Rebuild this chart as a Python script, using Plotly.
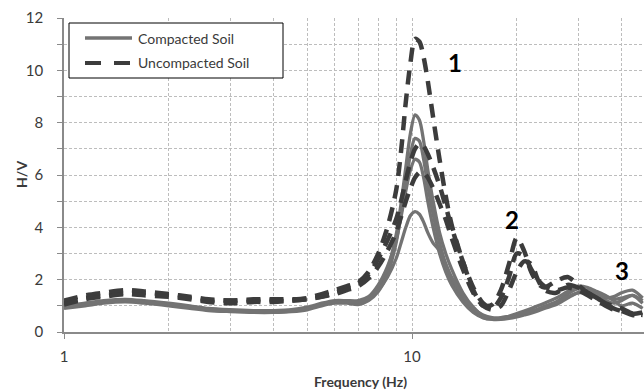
import math
import plotly.graph_objects as go

# ---------------- data ----------------
freq = [1, 1.15, 1.3, 1.5, 1.7, 2, 2.3, 2.6, 3, 3.5, 4, 4.5, 5, 5.5, 6, 6.5, 7, 7.5, 8, 8.5,
        9, 9.3, 9.6, 9.9, 10.2, 10.5, 10.8, 11.1, 11.5, 12, 12.5, 13, 14, 15, 16, 17, 18, 19, 20, 21,
        22, 23, 24, 26, 28, 30, 32, 34, 36, 38, 40, 43, 46]

compacted_1 = [0.95, 1.05, 1.15, 1.2, 1.15, 1.05, 0.95, 0.88, 0.82, 0.8,
               0.78, 0.8, 0.9, 1.05, 1.15, 1.15, 1.15, 1.3, 1.7, 2.4,
               3.7, 4.9, 6.3, 7.6, 8.3, 8.1, 7.3, 6.2, 5.0, 3.8,
               3.0, 2.4, 1.5, 0.95, 0.62, 0.52, 0.5, 0.55, 0.62, 0.7,
               0.78, 0.85, 0.95, 1.15, 1.45, 1.65, 1.55, 1.4, 1.3, 1.35,
               1.5, 1.6, 1.3]
compacted_2 = [0.9, 1.0, 1.1, 1.15, 1.1, 1.0, 0.9, 0.82, 0.78, 0.75,
               0.75, 0.78, 0.85, 1.0, 1.1, 1.1, 1.05, 1.2, 1.55, 2.2,
               3.4, 4.5, 5.7, 6.8, 7.4, 7.3, 6.6, 5.6, 4.5, 3.4,
               2.6, 2.0, 1.25, 0.8, 0.55, 0.48, 0.48, 0.52, 0.58, 0.65,
               0.72, 0.8, 0.9, 1.05, 1.3, 1.5, 1.45, 1.3, 1.2, 1.1,
               1.2, 1.4, 1.2]
compacted_3 = [1.0, 1.1, 1.2, 1.25, 1.2, 1.1, 1.0, 0.9, 0.85, 0.82,
               0.82, 0.85, 0.95, 1.1, 1.2, 1.2, 1.2, 1.35, 1.8, 2.5,
               3.5, 4.4, 5.4, 6.2, 6.6, 6.5, 5.9, 5.0, 4.0, 3.0,
               2.3, 1.8, 1.15, 0.75, 0.55, 0.5, 0.52, 0.6, 0.7, 0.8,
               0.9, 1.0, 1.1, 1.3, 1.55, 1.75, 1.7, 1.55, 1.4, 1.2,
               1.0, 1.1, 0.9]
compacted_4 = [0.95, 1.05, 1.15, 1.2, 1.15, 1.05, 0.95, 0.85, 0.8, 0.78,
               0.78, 0.8, 0.88, 1.05, 1.15, 1.15, 1.15, 1.25, 1.6, 2.1,
               2.8, 3.4, 4.0, 4.45, 4.6, 4.5, 4.2, 3.8, 3.4, 3.1,
               2.6, 2.1, 1.4, 0.9, 0.65, 0.55, 0.55, 0.6, 0.65, 0.72,
               0.8, 0.88, 0.98, 1.15, 1.35, 1.5, 1.6, 1.5, 1.35, 1.25,
               1.3, 1.4, 1.1]

uncompacted_1 = [1.1, 1.3, 1.4, 1.5, 1.5, 1.4, 1.3, 1.2, 1.2, 1.25,
                 1.25, 1.25, 1.3, 1.45, 1.6, 1.75, 1.9, 2.3, 3.0, 4.0,
                 5.4, 6.9, 8.8, 10.3, 11.2, 11.1, 10.5, 9.6, 8.2, 6.6,
                 5.2, 4.1, 2.7, 1.6, 1.0, 1.05, 1.6, 2.6, 3.6, 3.1,
                 2.3, 1.85, 1.7, 1.95, 2.1, 1.8, 1.5, 1.3, 1.1, 1.0,
                 0.9, 0.7, 0.65]
uncompacted_2 = [1.2, 1.4, 1.5, 1.6, 1.55, 1.45, 1.35, 1.25, 1.2, 1.2,
                 1.2, 1.2, 1.25, 1.35, 1.5, 1.65, 1.85, 2.2, 2.8, 3.5,
                 4.3, 5.0, 5.8, 6.5, 7.0, 7.2, 7.1, 6.8, 6.3, 5.6,
                 4.8, 4.0, 2.7, 1.7, 1.1, 0.9, 1.3, 2.1, 3.0, 2.9,
                 2.4, 2.0, 1.75, 1.6, 1.7, 1.6, 1.4, 1.2, 1.0, 0.85,
                 0.8, 0.65, 0.6]
uncompacted_3 = [1.05, 1.25, 1.35, 1.45, 1.4, 1.35, 1.25, 1.15, 1.1, 1.15,
                 1.15, 1.2, 1.25, 1.35, 1.45, 1.6, 1.75, 2.05, 2.5, 3.1,
                 3.8, 4.4, 5.0, 5.5, 5.9, 6.1, 6.1, 5.9, 5.5, 4.9,
                 4.3, 3.6, 2.4, 1.5, 1.0, 0.85, 1.0, 1.6, 2.3, 2.7,
                 2.6, 2.0, 1.6, 1.5, 1.8, 1.7, 1.5, 1.3, 1.1, 0.9,
                 0.8, 0.7, 0.75]

compacted = [compacted_1, compacted_2, compacted_3, compacted_4]
uncompacted = [uncompacted_1, uncompacted_2, uncompacted_3]

legend_labels = ["Compacted Soil", "Uncompacted Soil"]
peak_labels = ["1", "2", "3"]
peak_freq = [13.3, 19.4, 40.1]
peak_hv = [10.3, 4.3, 2.35]

x_ticks = [1, 10]
x_minor = [2, 3, 4, 5, 6, 7, 8, 9, 20, 30, 40]

# ---------------- style ----------------
FONT = "Lato"
SOLID_COLOR = "#737373"
DASH_COLOR = "#3c3c3c"
GRID = "#bdbdbd"
AXIS = "#8a8a8a"
TEXT = "#3a3a3a"
DASH = "14px,9px"

fig = go.Figure()
for s in compacted:
    fig.add_trace(go.Scatter(x=freq, y=s, mode="lines", showlegend=False,
                             line=dict(color=SOLID_COLOR, width=3.3, shape="spline", smoothing=0.8)))
for s in uncompacted:
    fig.add_trace(go.Scatter(x=freq, y=s, mode="lines", showlegend=False,
                             line=dict(color=DASH_COLOR, width=4.5, dash=DASH, shape="spline", smoothing=0.8)))

L, R, T, B = 64, 0, 18, 58
W, H = 644, 390
pw, ph = W - L - R, H - T - B


def px(xp):
    return (xp - L) / pw


def py(yp):
    return (H - B - yp) / ph


fig.update_layout(
    width=W, height=H,
    margin=dict(l=L, r=R, t=T, b=B),
    paper_bgcolor="white", plot_bgcolor="white",
    font=dict(family=FONT, color=TEXT, size=15),
    xaxis=dict(type="log", range=[0, 580 / 348], tickvals=x_ticks,
               ticktext=[str(v) for v in x_ticks],
               ticks="outside", ticklen=5, tickcolor=AXIS,
               showline=True, linecolor=AXIS, linewidth=1.5,
               showgrid=True, gridcolor=GRID, gridwidth=1, griddash="3px,2px",
               minor=dict(tickvals=x_minor, showgrid=True, gridcolor=GRID,
                          gridwidth=1, griddash="3px,2px", ticks=""),
               zeroline=False, tickfont=dict(size=15, color=TEXT),
               ticklabelstandoff=5),
    yaxis=dict(range=[0, 12], tick0=0, dtick=2,
               ticks="outside", ticklen=5, tickcolor=AXIS,
               showline=True, linecolor=AXIS, linewidth=1.5,
               showgrid=True, gridcolor=GRID, gridwidth=1, griddash="3px,2px",
               minor=dict(dtick=1, showgrid=True, gridcolor=GRID, gridwidth=1,
                          griddash="3px,2px", ticks="outside", ticklen=5, tickcolor=AXIS),
               zeroline=False, tickfont=dict(size=15, color=TEXT),
               ticklabelstandoff=11),
)

# axis titles
fig.add_annotation(text="<b>Frequency (Hz)</b>", xref="paper", yref="paper",
                   x=px(360), y=py(381), showarrow=False,
                   font=dict(size=14, color=TEXT, family=FONT), xanchor="center", yanchor="middle")
fig.add_annotation(text="<b>H/V</b>", xref="paper", yref="paper",
                   x=px(21), y=0.5, showarrow=False, textangle=-90,
                   font=dict(size=14, color=TEXT, family=FONT), xanchor="center", yanchor="middle")

# peak labels
for lab, f, v in zip(peak_labels, peak_freq, peak_hv):
    fig.add_annotation(text=f"<b>{lab}</b>", x=math.log10(f), y=v, xref="x", yref="y",
                       showarrow=False, font=dict(size=24, color="black", family=FONT))

# legend box (manual)
fig.add_shape(type="rect", xref="paper", yref="paper",
              x0=px(69), x1=px(283), y0=py(78), y1=py(23),
              line=dict(color="black", width=1), fillcolor="white", layer="above")
fig.add_shape(type="line", xref="paper", yref="paper",
              x0=px(85), x1=px(132), y0=py(38), y1=py(38),
              line=dict(color=SOLID_COLOR, width=3.5), layer="above")
fig.add_shape(type="line", xref="paper", yref="paper",
              x0=px(85), x1=px(132), y0=py(63), y1=py(63),
              line=dict(color=DASH_COLOR, width=4, dash="16px,13px"), layer="above")
for lab, yy in zip(legend_labels, [38, 63]):
    fig.add_annotation(text=lab, xref="paper", yref="paper", x=px(136), y=py(yy),
                       xanchor="left", yanchor="middle", showarrow=False,
                       font=dict(size=14, color=TEXT, family=FONT))

fig.write_html("out.html")
